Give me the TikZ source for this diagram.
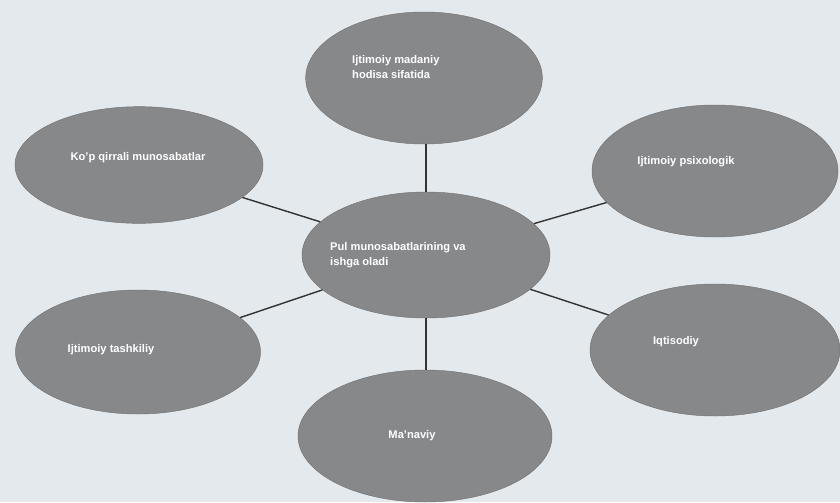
\documentclass[tikz,border=0pt]{standalone}
\usepackage{fontspec}
\setmainfont{Liberation Sans}
\usetikzlibrary{shapes.geometric}
\definecolor{pagebg}{HTML}{E3E9ED}
\definecolor{blobgray}{HTML}{87888A}
\definecolor{linkgray}{HTML}{333333}
\tikzset{
  blob/.style={ellipse, fill=blobgray, draw=blobgray!85!black, line width=0.4pt, inner sep=0pt},
  tag/.style={text=white, font=\bfseries\fontsize{9.5}{13}\selectfont, align=left, inner sep=0pt},
  link/.style={draw=linkgray, line width=1.2pt}
}

\begin{document}
\begin{tikzpicture}[x=0.03cm,y=-0.03cm]
    \fill[pagebg] (0,0) rectangle (840,502);
    \useasboundingbox (0,0) rectangle (840,502);

    % the seven ellipses
    \node[blob, minimum width=7.1cm,  minimum height=3.96cm] (top)   at (424,78)  {};
    \node[blob, minimum width=7.44cm, minimum height=3.5cm]  (upleft)  at (139,165) {};
    \node[blob, minimum width=7.38cm, minimum height=3.96cm] (upright) at (715,171) {};
    \node[blob, minimum width=7.44cm, minimum height=3.78cm] (mid)   at (426,255) {};
    \node[blob, minimum width=7.35cm, minimum height=3.72cm] (lowleft) at (138,352) {};
    \node[blob, minimum width=7.5cm,  minimum height=3.96cm] (lowright) at (715,350) {};
    \node[blob, minimum width=7.62cm, minimum height=3.96cm] (bottom) at (425,436) {};

    % texts
    \node[tag, anchor=west] (toptext) at (352,67) {Ijtimoiy madaniy\\hodisa sifatida};
    \node[tag] (uplefttext) at (138,158) {Ko'p qirrali munosabatlar};
    \node[tag] (uprighttext) at (686,162) {Ijtimoiy psixologik};
    \node[tag, anchor=west] (midtext) at (330,255) {Pul munosabatlarining va\\ishga oladi};
    \node[tag] (lowlefttext) at (111,350) {Ijtimoiy tashkiliy};
    \node[tag] (lowrighttext) at (676,342) {Iqtisodiy};
    \node[tag] (bottomtext) at (412,436) {Ma'naviy};

    \draw[link] (mid.north) -- (mid.north |- top.south);
    \draw[link] (mid.south) -- (mid.south |- bottom.north);
    \draw[link] (mid) -- (upleft);
    \draw[link] (mid) -- (upright);
    \draw[link] (mid) -- (lowleft);
    \draw[link] (mid) -- (lowright);
\end{tikzpicture}
\end{document}
